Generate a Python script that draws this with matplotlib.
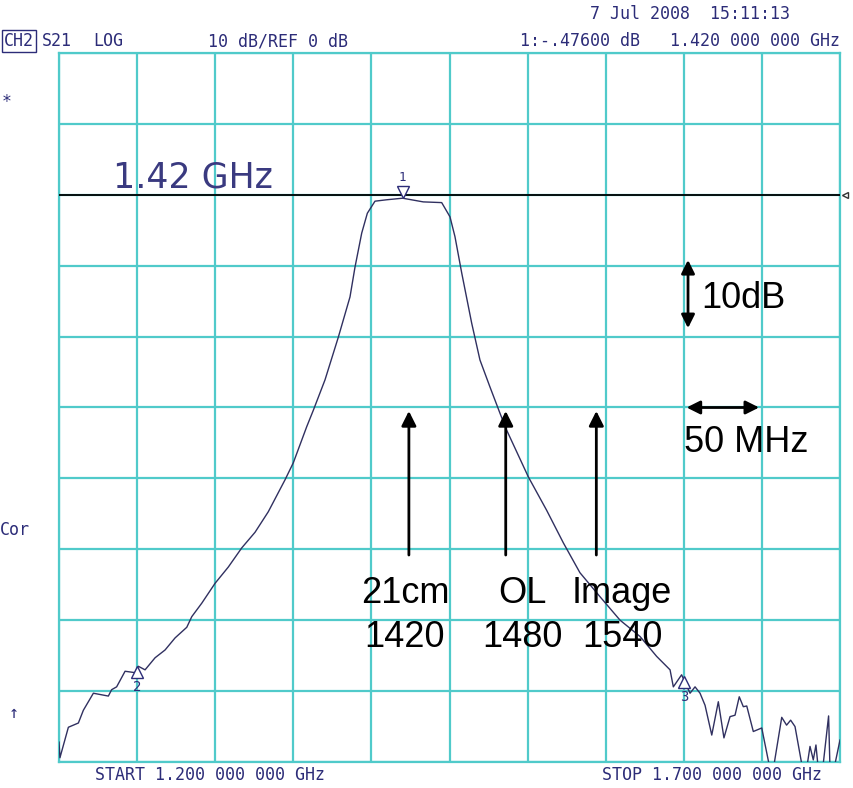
import matplotlib
matplotlib.use("Agg")
import matplotlib.pyplot as plt

# trace (MHz, dB)
freq = [1200, 1200.6, 1206.0, 1212.4, 1215.6, 1222.0, 1231.6, 1233.7, 1236.9, 1242.3,
        1248.7, 1250.8, 1255.1, 1261.5, 1267.9, 1274.3, 1281.8, 1285.0, 1291.4, 1299.9,
        1308.4, 1317.0, 1325.5, 1334.0, 1344.7, 1350.0, 1355.4, 1358.6, 1362.8, 1370.3,
        1378.8, 1386.3, 1389.5, 1393.8, 1397.4, 1402.3, 1409.8, 1420.0, 1433.2, 1445.0,
        1450.3, 1453.5, 1457.8, 1464.2, 1469.5, 1475.9, 1482.3, 1486.6, 1500.5, 1512.2,
        1522.9, 1533.5, 1546.4, 1559.2, 1572.0, 1582.6, 1591.2, 1593.3, 1598.6, 1604.0,
        1607.2, 1610.4, 1613.6, 1617.9, 1622.1, 1625.7, 1629.6, 1632.8, 1635.5, 1638.1,
        1640.3, 1644.5, 1649.9, 1655.2, 1657.3, 1662.7, 1665.8, 1668.4, 1671.2, 1676.1,
        1678.6, 1680.8, 1682.9, 1684.6, 1686.1, 1688.9, 1692.7, 1693.6, 1696.1, 1700.0]
s21 = [-77.2, -79.4, -75.1, -74.5, -72.7, -70.3, -70.7, -69.8, -69.4, -67.2,
       -67.4, -66.5, -67.0, -65.3, -64.2, -62.5, -61.0, -59.5, -57.6, -54.8,
       -52.5, -49.8, -47.6, -44.7, -40.2, -37.8, -34.6, -32.7, -30.4, -26.1,
       -20.1, -14.4, -10.2, -5.4, -2.6, -0.9, -0.7, -0.48, -1.0, -1.1,
       -3.1, -5.9, -11.0, -18.1, -23.3, -27.1, -30.8, -33.2, -39.8, -44.5,
       -49.1, -53.3, -56.7, -60.0, -62.3, -65.1, -67.0, -69.4, -67.7, -70.3,
       -69.4, -70.3, -72.0, -76.2, -71.5, -76.6, -73.6, -73.4, -70.8, -72.2,
       -72.1, -75.7, -75.2, -81, -81, -73.7, -74.8, -74.1, -75.0, -81,
       -81, -77.8, -79.7, -77.6, -81, -81, -73.5, -81, -81, -76.9]

markers_f = [1420, 1250, 1600]
markers_db = [-0.48, -66.5, -67.9]
marker_names = ["1", "2", "3"]

arrow_f = [1424, 1486, 1544]
label_f = [1421.5, 1496.4, 1560.4]
label_top = ["21cm", "OL", "Image"]
label_bottom = ["1420", "1480", "1540"]

navy = "#2c2c78"
grid_c = "#50caca"

fig = plt.figure(figsize=(8.54, 7.88), dpi=100)
ax = fig.add_axes([59 / 854, 1 - 762 / 788, 781 / 854, 709 / 788])
ax.set_xlim(1200, 1700)
ax.set_ylim(-80, 20)
ax.set_xticks(range(1200, 1701, 50))
ax.set_yticks(range(-80, 21, 10))
ax.tick_params(length=0, labelbottom=False, labelleft=False)
ax.grid(True, color=grid_c, linewidth=1.6)
for s in ax.spines.values():
    s.set_color(grid_c)
    s.set_linewidth(1.6)

# reference line
ax.axhline(0, color="black", linewidth=1.3, zorder=3)
ax.plot([1703], [0], marker="<", markersize=5, markerfacecolor="white",
        markeredgecolor="#333333", clip_on=False, zorder=4)

ax.plot(freq, s21, color="#303060", linewidth=1.0, zorder=4)

# instrument markers
ax.plot(markers_f[0], markers_db[0] + 0.85, marker="v", markersize=9,
        markerfacecolor="white", markeredgecolor=navy, zorder=5)
ax.text(markers_f[0], markers_db[0] + 2.0, marker_names[0], color=navy,
        ha="center", va="bottom", fontsize=9, family="DejaVu Sans Mono")
for f, d, n in zip(markers_f[1:], markers_db[1:], marker_names[1:]):
    ax.plot(f, d - 0.85, marker="^", markersize=9, markerfacecolor="white",
            markeredgecolor=navy, zorder=5)
    ax.text(f, d - 1.9, n, color=navy, ha="center", va="top", fontsize=10,
            family="DejaVu Sans Mono")

ax.text(1234.6, 1.1, "1.42 GHz", color="#3a3a80", fontsize=25, ha="left",
        va="baseline", family="DejaVu Sans")

# annotation arrows
for f in arrow_f:
    ax.annotate("", xy=(f, -30.1), xytext=(f, -51.2),
                arrowprops=dict(arrowstyle="-|>", color="black", lw=2,
                                mutation_scale=22), zorder=6)
for f, t, b in zip(label_f, label_top, label_bottom):
    ax.text(f, -56.2, t, fontsize=26, ha="center", va="center",
            family="Liberation Sans", zorder=6)
    ax.text(f, -62.4, b, fontsize=26, ha="center", va="center",
            family="Liberation Sans", zorder=6)

ax.annotate("", xy=(1602.7, -8.8), xytext=(1602.7, -19.2),
            arrowprops=dict(arrowstyle="<|-|>", color="black", lw=2,
                            mutation_scale=20), zorder=6)
ax.text(1611, -14.6, "10dB", fontsize=26, ha="left", va="center",
        family="Liberation Sans")
ax.annotate("", xy=(1600, -30.0), xytext=(1650, -30.0),
            arrowprops=dict(arrowstyle="<|-|>", color="black", lw=2,
                            mutation_scale=20), zorder=6)
ax.text(1600, -35.0, "50 MHz", fontsize=26, ha="left", va="center",
        family="Liberation Sans")

# screen header / footer text
mono = dict(family="DejaVu Sans Mono", color=navy, fontsize=12)
fig.text(590 / 854, 1 - 14 / 788, "7 Jul 2008  15:11:13", va="center", **mono)
fig.text(4 / 854, 1 - 41 / 788, "CH2", va="center",
         bbox=dict(boxstyle="square,pad=0.1", fc="white", ec=navy, lw=1), **mono)
fig.text(42 / 854, 1 - 41 / 788, "S21", va="center", **mono)
fig.text(93 / 854, 1 - 41 / 788, "LOG", va="center", **mono)
fig.text(208 / 854, 1 - 41 / 788, "10 dB/REF 0 dB", va="center", **mono)
fig.text(580 / 854, 1 - 41 / 788, "1:-.47600 dB", va="center", ha="center", **mono)
fig.text(840 / 854, 1 - 41 / 788, "1.420 000 000 GHz", va="center", ha="right", **mono)
fig.text(95 / 854, 1 - 775 / 788, "START 1.200 000 000 GHz", va="center", **mono)
fig.text(822 / 854, 1 - 775 / 788, "STOP 1.700 000 000 GHz", va="center", ha="right", **mono)
fig.text(2 / 854, 1 - 102 / 788, "*", va="center", **mono)
fig.text(0 / 854, 1 - 530 / 788, "Cor", va="center", **mono)
fig.text(9 / 854, 1 - 713 / 788, "↑", va="center", **mono)

fig.savefig("out.png", dpi=100)
